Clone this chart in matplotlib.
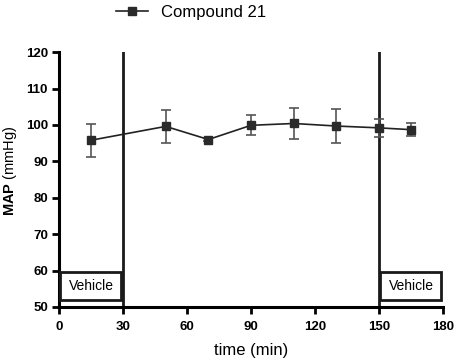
import matplotlib.pyplot as plt
from matplotlib.patches import Rectangle

plt.rcParams['font.family'] = ['Liberation Sans', 'DejaVu Sans']
plt.rcParams['mathtext.fontset'] = 'custom'
plt.rcParams['mathtext.bf'] = 'Liberation Sans:bold'
plt.rcParams['mathtext.rm'] = 'Liberation Sans'

# dati
time = [15, 50, 70, 90, 110, 130, 150, 165]
map_mean = [95.8, 99.6, 96.0, 99.9, 100.4, 99.7, 99.2, 98.7]
map_err = [4.5, 4.5, 0.5, 2.8, 4.3, 4.6, 2.4, 1.7]
vehicle_windows = [(0, 30), (150, 180)]
xticks = [0, 30, 60, 90, 120, 150, 180]
yticks = [50, 60, 70, 80, 90, 100, 110, 120]

fig = plt.figure(figsize=(4.54, 3.62), dpi=100)
ax = fig.add_axes([0.130, 0.152, 0.846, 0.704])

ax.errorbar(time, map_mean, yerr=map_err, fmt='none', ecolor='#555555',
            elinewidth=1.2, capsize=3.5, capthick=1.2, zorder=2)
ax.plot(time, map_mean, color='#222222', lw=1.2, marker='s', ms=5.5,
        mfc='#2a2a2a', mec='#2a2a2a', label='Compound 21', zorder=3)

# linee di inizio/fine trattamento
for t in (30, 150):
    ax.plot([t, t], [50, 120], color='#1a1a1a', lw=2, zorder=1)

# riquadri "Vehicle"
for a, b in vehicle_windows:
    ax.add_patch(Rectangle((a + 0.6, 52), b - a - 1.6, 7.6, fill=False,
                           ec='#1a1a1a', lw=2, zorder=4))
    ax.text((a + b) / 2, 55.8, 'Vehicle', ha='center', va='center', fontsize=10)

ax.set_xlim(0, 180)
ax.set_ylim(50, 120)
ax.set_xticks(xticks)
ax.set_yticks(yticks)
for s in ('top', 'right'):
    ax.spines[s].set_visible(False)
for s in ('left', 'bottom'):
    ax.spines[s].set_linewidth(2.2)
ax.tick_params(width=2, length=5, direction='out', labelsize=9.5, pad=3)
ax.tick_params(axis='x', pad=5)
for lb in ax.get_xticklabels() + ax.get_yticklabels():
    lb.set_fontweight('bold')

ax.set_xlabel('time (min)', fontsize=12, labelpad=7)
ax.set_ylabel(r'$\mathbf{MAP}$ (mmHg)', fontsize=10.5)
ax.yaxis.set_label_coords(-0.105, 0.533)

ax.legend(loc='upper left', bbox_to_anchor=(0.11, 1.245), frameon=False,
          fontsize=12, handlelength=1.9, markerscale=1.0)

plt.savefig('out.png', dpi=100)
